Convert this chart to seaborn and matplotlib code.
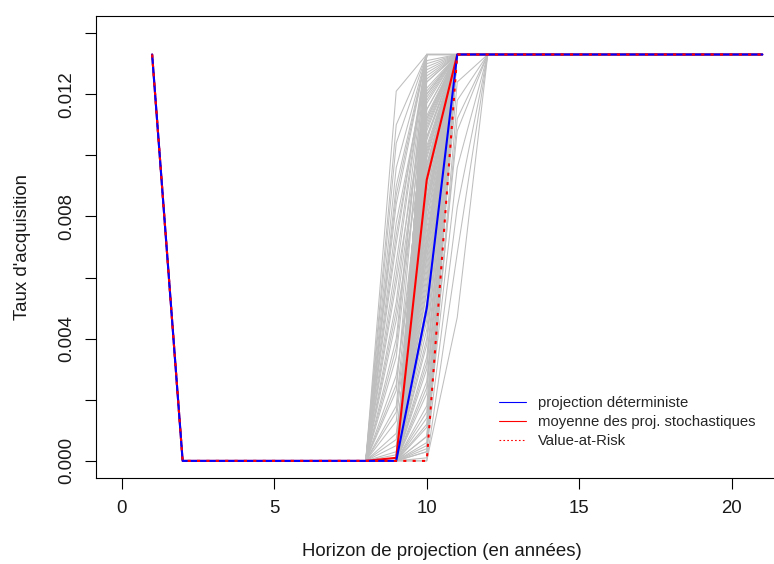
import numpy as np
import pandas as pd
import matplotlib
matplotlib.use("Agg")
import matplotlib.pyplot as plt
from matplotlib.lines import Line2D
import seaborn as sns

# --- valeurs ---
annees = list(range(1, 22))

# trajectoire deterministe / moyenne stochastique / VaR (annees 1..21)
taux_determ = [0.0133, 0, 0, 0, 0, 0, 0, 0, 0.0, 0.0050, 0.0133] + [0.0133] * 10
taux_moyen = [0.0133, 0, 0, 0, 0, 0, 0, 0, 0.0001, 0.0092, 0.0133] + [0.0133] * 10
taux_var = [0.0133, 0, 0, 0, 0, 0, 0, 0, 0.0, 0.0, 0.0133] + [0.0133] * 10

# projections stochastiques : annees 1..8 et 12..21 communes a toutes
debut_sim = [0.0133, 0, 0, 0, 0, 0, 0, 0]
fin_sim = [0.0133] * 10

# groupe A : hausse des l'annee 9 (valeurs annees 9 et 10, 11 = palier)
grpA_an9 = [0.0121, 0.0110, 0.0104, 0.0096, 0.0090, 0.0087, 0.0084, 0.0078,
            0.0074, 0.0071, 0.0065, 0.0061, 0.0058, 0.0052, 0.0049, 0.0046,
            0.0040, 0.0037, 0.0034, 0.0028, 0.0025, 0.0023, 0.0018, 0.0016,
            0.0013, 0.0009, 0.0007, 0.0005, 0.0003, 0.0002]
grpA_an10 = [0.0133, 0.0133, 0.0133, 0.0133, 0.0133, 0.0133, 0.0133, 0.0128,
             0.0130, 0.0133, 0.0133, 0.0133, 0.0120, 0.0133, 0.0124, 0.0110,
             0.0133, 0.0133, 0.0125, 0.0095, 0.0112, 0.0133, 0.0118, 0.0106,
             0.0102, 0.0088, 0.0097, 0.0070, 0.0083, 0.0115]

# groupe B : nul en annee 9, valeur en annee 10, palier en 11
grpB_an10 = [0.0133, 0.0133, 0.0133, 0.0133, 0.0133, 0.0133, 0.0133, 0.0133,
             0.0131, 0.0129, 0.0127, 0.0126, 0.0124, 0.0122, 0.0121, 0.0120,
             0.0119, 0.0117, 0.0115, 0.0113, 0.0112, 0.0111, 0.0109, 0.0108,
             0.0106, 0.0105, 0.0103, 0.0101, 0.0100, 0.0099, 0.0097, 0.0096,
             0.0094, 0.0093, 0.0091, 0.0090, 0.0088, 0.0086, 0.0085, 0.0084,
             0.0082, 0.0081, 0.0079, 0.0078, 0.0076, 0.0074, 0.0073, 0.0072,
             0.0070, 0.0069, 0.0067, 0.0066, 0.0064, 0.0062, 0.0060, 0.0058,
             0.0056, 0.0055, 0.0052, 0.0050, 0.0048, 0.0046, 0.0043, 0.0040,
             0.0038, 0.0034, 0.0032, 0.0030, 0.0026, 0.0024, 0.0022, 0.0018,
             0.0014, 0.0011, 0.0008, 0.0005, 0.0003, 0.0001]

# groupe C : retard, palier atteint seulement en annee 12
grpC_an10 = [0.0, 0.0, 0.0004, 0.0008, 0.0012, 0.0003, 0.0016, 0.0006]
grpC_an11 = [0.0047, 0.0068, 0.0083, 0.0096, 0.0108, 0.0118, 0.0124, 0.0112]

xticks = [0, 5, 10, 15, 20]
yticks = [0.000, 0.002, 0.004, 0.006, 0.008, 0.010, 0.012, 0.014]
ytick_labels = ["0.000", "", "0.004", "", "0.008", "", "0.012", ""]

legende = ["projection déterministe", "moyenne des proj. stochastiques",
           "Value-at-Risk"]

# --- mise en forme des donnees ---
trajs = []
for v9, v10 in zip(grpA_an9, grpA_an10):
    trajs.append(debut_sim + [v9, v10, 0.0133] + fin_sim)
for v10 in grpB_an10:
    trajs.append(debut_sim + [0.0, v10, 0.0133] + fin_sim)
for v10, v11 in zip(grpC_an10, grpC_an11):
    trajs.append(debut_sim + [0.0, v10, v11] + fin_sim)

lignes = []
for i, traj in enumerate(trajs):
    for an, v in zip(annees, traj):
        lignes.append({"sim": i, "annee": an, "taux": v})
df_sim = pd.DataFrame(lignes)
df_ref = pd.DataFrame({"annee": annees, "determ": taux_determ,
                       "moyen": taux_moyen, "var": taux_var})

sns.set_style("ticks")
plt.rcParams["font.family"] = ["Liberation Sans", "DejaVu Sans"]

fig = plt.figure(figsize=(7.74, 5.64), dpi=100)
ax = fig.add_axes([96 / 774, (564 - 478) / 564, (788 - 96) / 774, (478 - 16) / 564])

sns.lineplot(data=df_sim, x="annee", y="taux", units="sim", estimator=None,
             color="#BEBEBE", linewidth=0.75, ax=ax, legend=False)
sns.lineplot(data=df_ref, x="annee", y="moyen", color="red", linewidth=1.5, ax=ax)
sns.lineplot(data=df_ref, x="annee", y="determ", color="blue", linewidth=1.5, ax=ax)
ax.plot(df_ref["annee"], df_ref["var"], color="red", linewidth=1.5,
        linestyle=(0, (1.5, 3)), dash_capstyle="butt")

ax.set_xlim(-0.84, 21.84)
ax.set_ylim(-0.00056, 0.01456)
ax.set_xticks(xticks)
ax.set_xticklabels([str(t) for t in xticks])
ax.set_yticks(yticks)
ax.set_yticklabels(ytick_labels, rotation=90, va="center")

for s in ax.spines.values():
    s.set_visible(True)
    s.set_linewidth(0.8)
    s.set_color("black")
ax.tick_params(axis="both", direction="out", length=7.7, width=0.8,
               color="black", labelsize=13.4, labelcolor="#1a1a1a")
ax.tick_params(axis="x", pad=8)
ax.tick_params(axis="y", pad=7)

ax.set_xlabel("Horizon de projection (en années)", fontsize=13.4,
              color="#1a1a1a", labelpad=19)
ax.set_ylabel("Taux d'acquisition", fontsize=13.4, color="#1a1a1a",
              labelpad=20)

poignees = [Line2D([], [], color="blue", linewidth=0.8),
            Line2D([], [], color="red", linewidth=0.8),
            Line2D([], [], color="red", linewidth=0.8, linestyle=(0, (1.5, 2)))]
ax.legend(poignees, legende, loc="upper left",
          bbox_to_anchor=(499 / 774, 1 - 396 / 564),
          bbox_transform=fig.transFigure, frameon=False, fontsize=10.7,
          handlelength=1.8, handletextpad=0.8, labelspacing=0.34,
          borderpad=0, borderaxespad=0)

fig.savefig("out.png", dpi=100)
